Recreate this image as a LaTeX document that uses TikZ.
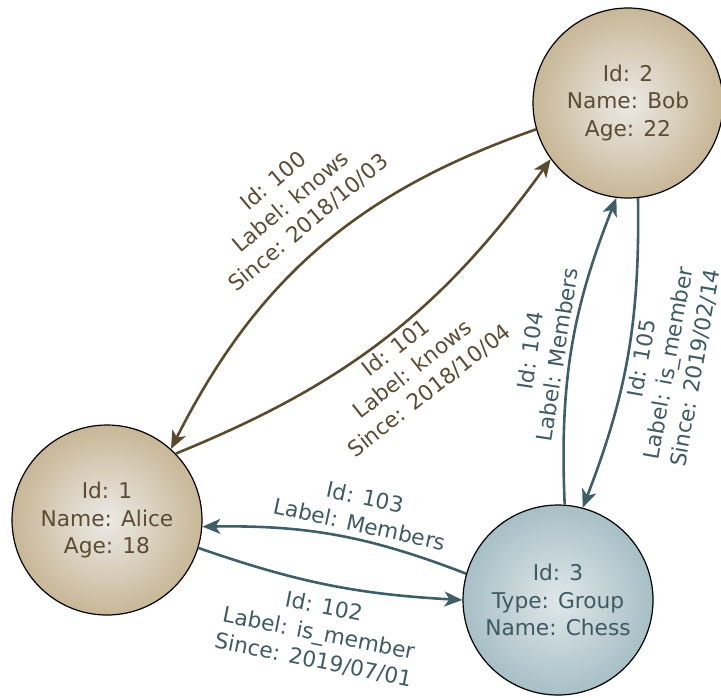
\documentclass[tikz,border=0pt]{standalone}
\usepackage{fontspec}
\setmainfont{DejaVu Sans}
\usetikzlibrary{arrows.meta}
\definecolor{personin}{HTML}{ECEAE6}
\definecolor{personout}{HTML}{C8B797}
\definecolor{persontext}{HTML}{5C4C33}
\definecolor{knowsline}{HTML}{5A4A2E}
\definecolor{groupin}{HTML}{E0E7E9}
\definecolor{groupout}{HTML}{A7BFC6}
\definecolor{membertext}{HTML}{3E5A62}
\definecolor{memberline}{HTML}{3E5F68}
\tikzset{
	entity/.style={circle, draw=black, line width=0.6pt, minimum size=95pt, inner sep=0pt, align=center},
	person/.style={entity, inner color=personin, outer color=personout, text=persontext},
	group/.style={entity, inner color=groupin, outer color=groupout, text=membertext},
	knows/.style={draw=knowsline, line width=1.3pt, -{Stealth[length=9pt,width=7.5pt,inset=2.5pt]}},
	member/.style={draw=memberline, line width=1.3pt, -{Stealth[length=9pt,width=7.5pt,inset=2.5pt]}},
	lbl/.style={align=center, sloped, inner sep=2pt}
}
\begin{document}
\begin{tikzpicture}[x=0.5pt,y=-0.5pt,font=\fontsize{10.85}{13.6}\selectfont]
			\useasboundingbox (0,0) rectangle (721,697);
			\node (bob)[person] at (628,103) {Id: 2\\Name: Bob\\Age: 22};
			\node (alice)[person] at (107,520) {Id: 1\\Name: Alice\\Age: 18};
			\node (chess)[group] at (558,600) {Id: 3\\Type: Group\\Name: Chess};

			\draw[knows] (bob.196) to[bend right=22] node[lbl, above=6pt, pos=0.48, text=persontext]{Id: 100\\Label: knows\\Since: 2018/10/03} (alice.48);
			\draw[knows] (alice.44) to[bend right=16] node[lbl, below, pos=0.5, text=persontext]{Id: 101\\Label: knows\\Since: 2018/10/04} (bob.216);
			\draw[member] (chess.86) to[bend left=12] node[lbl, above, pos=0.47, text=membertext]{Id: 104\\Label: Members} (bob.263);
			\draw[member] (bob.276) to[bend left=11] node[lbl, below, pos=0.5, text=membertext]{Id: 105\\Label: is\_member\\Since: 2019/02/14} (chess.75);
			\draw[member] (chess.164) to[bend right=11] node[lbl, above=1pt, pos=0.42, text=membertext]{Id: 103\\Label: Members} (alice.356);
			\draw[member] (alice.343) to[bend right=8] node[lbl, below=4pt, text=membertext]{Id: 102\\Label: is\_member\\Since: 2019/07/01} (chess.180);
		\end{tikzpicture}
\end{document}
